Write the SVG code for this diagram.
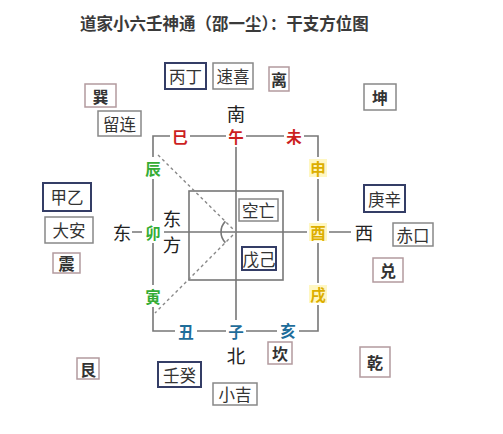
<svg xmlns="http://www.w3.org/2000/svg" width="503" height="434" viewBox="0 0 503 434">
<style>
text{font-family:"Noto Sans CJK SC","Noto Sans CJK TC",sans-serif;text-anchor:middle;dominant-baseline:central}
.title{font-size:16.5px;font-weight:bold;fill:#3a3a3a;text-anchor:start}
.ln{stroke:#777;stroke-width:1.6;fill:none}
.dash{stroke:#888;stroke-width:1.4;stroke-dasharray:3 3;fill:none}
.bx{fill:#fff;stroke:#888;stroke-width:1.5}
.nv{fill:#fff;stroke:#343d66;stroke-width:2}
.pk{fill:#fff;stroke:#b39a9e;stroke-width:1.5}
.bt{font-size:16.5px;fill:#333}
.tg{font-size:16px;fill:#333;font-weight:bold}
.dir{font-size:18.5px;fill:#222}
.br{font-size:15.5px;font-weight:bold}
.red{fill:#cc1f1f}
.yel{fill:#dcae00}
.blu{fill:#1f6d9a}
.grn{fill:#34ac34}
.glow{fill:#fff7c2}
</style>
<rect width="503" height="434" fill="#fff"/>
<text class="title" x="80" y="23">道家小六壬神通（邵一尘）：干支方位图</text>

<g id="connectors">
  <path class="ln" d="M153,157 V136 H170 M190,136 H226 M246,136 H284 M304,136 H318 V157"/>
  <path class="ln" d="M153,179 V221 M153,243 V285 M153,307 V331 H175 M197,331 H226 M246,331 H277 M299,331 H318 V305 M318,283 V243 M318,221 V179"/>
  <path class="ln" d="M236,147 V320 M164,232 H307 M329,232 H351 M132,232 H142"/>
  <rect class="ln" x="189" y="191" width="94" height="89"/>
  <path class="dash" d="M158,155 L236,232 L155,313"/>
  <path class="ln" d="M225.4,221.4 A15,15 0 0 0 225.4,242.6" stroke-width="1.3"/>
</g>

<g id="branches">
  <text class="br red" x="180" y="136">巳</text>
  <text class="br red" x="236" y="136">午</text>
  <text class="br red" x="294" y="136">未</text>
  <rect class="glow" x="309" y="159" width="18" height="18"/>
  <text class="br yel" x="318" y="168">申</text>
  <rect class="glow" x="309" y="223" width="18" height="18"/>
  <text class="br yel" x="318" y="232">酉</text>
  <rect class="glow" x="309" y="285" width="18" height="18"/>
  <text class="br yel" x="318" y="294">戌</text>
  <text class="br blu" x="288" y="330">亥</text>
  <text class="br blu" x="236" y="331">子</text>
  <text class="br blu" x="186" y="331">丑</text>
  <text class="br grn" x="153" y="296">寅</text>
  <text class="br grn" x="153" y="232">卯</text>
  <text class="br grn" x="153" y="168">辰</text>
</g>

<g id="directions">
  <text class="dir" x="236" y="113">南</text>
  <text class="dir" x="236" y="355">北</text>
  <text class="dir" x="122" y="232">东</text>
  <text class="dir" x="364" y="232">西</text>
  <text class="dir" x="172" y="218" font-size="16.5">东</text>
  <text class="dir" x="172" y="244" font-size="16.5">方</text>
</g>

<g id="kongwang"><rect class="bx" x="239" y="199" width="39" height="22"/><text class="bt" x="258.5" y="210">空亡</text></g>
<g id="wuji"><rect class="nv" x="242" y="247" width="34" height="23" stroke-width="1.5"/><text class="bt" x="259" y="258.5">戊己</text></g>

<g id="bingding"><rect class="nv" x="165" y="63" width="41" height="26"/><text class="bt" x="185.5" y="76">丙丁</text></g>
<g id="suxi"><rect class="bx" x="213" y="63" width="40" height="26"/><text class="bt" x="233" y="76">速喜</text></g>
<g id="li"><rect class="pk" x="269" y="67" width="20" height="24"/><text class="tg" x="279" y="79">离</text></g>
<g id="kun"><rect class="bx" x="364" y="84" width="32" height="26"/><text class="tg" x="380" y="97">坤</text></g>
<g id="xun"><rect class="pk" x="85" y="84" width="31" height="23"/><text class="tg" x="100.5" y="95.5">巽</text></g>
<g id="liulian"><rect class="bx" x="98" y="111" width="43" height="25"/><text class="bt" x="119.5" y="123.5">留连</text></g>
<g id="jiayi"><rect class="nv" x="43" y="183" width="48" height="28"/><text class="bt" x="67" y="197">甲乙</text></g>
<g id="daan"><rect class="bx" x="45" y="217" width="48" height="26"/><text class="bt" x="69" y="230">大安</text></g>
<g id="zhen"><rect class="pk" x="53" y="253" width="27" height="20"/><text class="tg" x="66.5" y="263">震</text></g>
<g id="gengxin"><rect class="nv" x="364" y="185" width="41" height="27"/><text class="bt" x="384.5" y="198.5">庚辛</text></g>
<g id="chikou"><rect class="bx" x="393" y="223" width="40" height="23"/><text class="bt" x="413" y="234.5">赤口</text></g>
<g id="dui"><rect class="pk" x="373" y="258" width="30" height="24"/><text class="tg" x="388" y="270">兑</text></g>
<g id="gen"><rect class="pk" x="77" y="358" width="22" height="21"/><text class="tg" x="88" y="368.5">艮</text></g>
<g id="rengui"><rect class="nv" x="158" y="362" width="43" height="25"/><text class="bt" x="179.5" y="374.5">壬癸</text></g>
<g id="xiaoji"><rect class="bx" x="213" y="383" width="44" height="22"/><text class="bt" x="235" y="394">小吉</text></g>
<g id="kan"><rect class="pk" x="268" y="342" width="24" height="22"/><text class="tg" x="280" y="353">坎</text></g>
<g id="qian"><rect class="pk" x="360" y="347" width="30" height="30"/><text class="tg" x="375" y="362">乾</text></g>
</svg>
